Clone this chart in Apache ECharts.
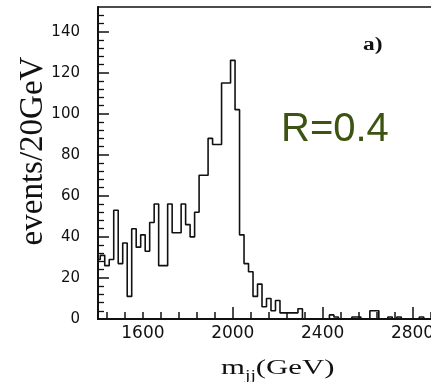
<!DOCTYPE html>
<html><head><meta charset="utf-8">
<script src="https://cdn.jsdelivr.net/npm/echarts@6/dist/echarts.min.js"></script>
<style>html,body{margin:0;padding:0;background:#fff}#c{width:431px;height:382px}</style>
</head><body><div id="c"></div>
<script>
// histogram: events per 20 GeV bin, first bin left edge = binStart
const binStart = 1390;
const binWidth = 20;
const binCounts = [
  29, 31, 26, 29, 53, 27, 37, 11, 44, 35,   // 1390..1570
  41, 33, 47, 56, 26, 26, 56, 42, 42, 56,   // 1590..1770
  46, 40, 52, 70, 70, 88, 85, 85, 115, 115, // 1790..1970
  126, 102, 41, 27, 23, 11, 17, 6, 10, 4,   // 1990..2170
  9, 3, 3, 3, 3, 5, 0, 0, 0, 0,             // 2190..2370
  0, 0, 2, 1, 0, 0, 0, 1, 1, 0,             // 2390..2570
  0, 4, 4, 0, 0, 1, 0, 1, 0, 0,             // 2590..2770
  0, 0, 1, 0, 0, 0                          // 2790..2890
];
const xLabelValues = [1600, 2000, 2400, 2800];
const xMajorTicks = [2000, 2400, 2800];
const xMinorTicks = [1440, 1520, 1600, 1680, 1760, 1840, 1920, 2000, 2080, 2160, 2240, 2320, 2400, 2480, 2560, 2640, 2720, 2800, 2880];
const yLabelValues = [0, 20, 40, 60, 80, 100, 120, 140];
const yMinorTicks = [4, 8, 12, 16, 24, 28, 32, 36, 44, 48, 52, 56, 64, 68, 72, 76, 84, 88, 92, 96, 104, 108, 112, 116, 124, 128, 132, 136, 144, 148];

const xMin = 1400, xMax = 2900, yMin = 0, yMax = 152;

const histData = binCounts.map((v, i) => [binStart + i * binWidth, v]);
histData.push([binStart + binCounts.length * binWidth, binCounts[binCounts.length - 1]]);

const ink = '#111';
const plain = v => String(v);
const chart = echarts.init(document.getElementById('c'), null, {renderer: 'canvas'});
chart.setOption({
  animation: false,
  backgroundColor: '#fff',
  grid: {left: 98, top: 7, right: -4, bottom: 63, show: true, borderColor: ink, borderWidth: 1.5,
         backgroundColor: 'transparent', containLabel: false, outerBoundsMode: 'none'},
  xAxis: [
    {type: 'value', min: xMin, max: xMax, position: 'bottom',
     axisLine: {show: true, lineStyle: {color: ink, width: 2}},
     axisTick: {show: true, inside: true, length: 12, customValues: xMajorTicks, lineStyle: {color: ink, width: 1.5}},
     axisLabel: {show: true, customValues: xLabelValues, formatter: plain, margin: 6, color: ink, fontSize: 17, fontFamily: 'DejaVu Sans', hideOverlap: false},
     splitLine: {show: false}},
    {type: 'value', min: xMin, max: xMax, position: 'bottom', gridIndex: 0,
     axisLine: {show: false},
     axisTick: {show: true, inside: true, length: 7, customValues: xMinorTicks, lineStyle: {color: ink, width: 1.5}},
     axisLabel: {show: false},
     splitLine: {show: false}}
  ],
  yAxis: [
    {type: 'value', min: yMin, max: yMax, position: 'left',
     axisLine: {show: true, lineStyle: {color: ink, width: 2}},
     axisTick: {show: true, inside: true, length: 11, customValues: yLabelValues, lineStyle: {color: ink, width: 1.5}},
     axisLabel: {show: true, customValues: yLabelValues, formatter: plain, margin: 18, color: ink, fontSize: 15, fontFamily: 'DejaVu Sans'},
     splitLine: {show: false}},
    {type: 'value', min: yMin, max: yMax, position: 'left', gridIndex: 0,
     axisLine: {show: false},
     axisTick: {show: true, inside: true, length: 6, customValues: yMinorTicks, lineStyle: {color: ink, width: 1.3}},
     axisLabel: {show: false},
     splitLine: {show: false}}
  ],
  series: [{
    type: 'line', xAxisIndex: 0, yAxisIndex: 0, step: 'end', data: histData,
    symbol: 'none', clip: true, lineStyle: {color: ink, width: 1.6}
  }],
  graphic: [
    {type: 'text', x: 33, y: 151, rotation: Math.PI / 2,
     style: {text: 'events/20GeV', font: '33px "Liberation Serif"', fill: ink,
             textAlign: 'center', textVerticalAlign: 'middle', align: 'center', verticalAlign: 'middle'}},
    {type: 'text', x: 221, y: 368, scaleX: 1.4,
     style: {text: '{m|m}{s|jj}{g|(GeV)}', fill: ink,
             textAlign: 'left', textVerticalAlign: 'middle', align: 'left', verticalAlign: 'middle',
             rich: {
               m: {fontSize: 22, fontFamily: 'Liberation Serif', lineHeight: 30, verticalAlign: 'middle', color: ink},
               s: {fontSize: 14, fontFamily: 'Liberation Serif', lineHeight: 30, verticalAlign: 'bottom', color: ink},
               g: {fontSize: 22, fontFamily: 'Liberation Serif', lineHeight: 30, verticalAlign: 'middle', color: ink}
             }}},
    {type: 'text', x: 363, y: 45, scaleX: 1.3,
     style: {text: 'a)', font: 'bold 18px "Liberation Serif"', fill: ink,
             textAlign: 'left', textVerticalAlign: 'middle', align: 'left', verticalAlign: 'middle'}},
    {type: 'text', x: 281, y: 130,
     style: {text: 'R=0.4', font: '40px "Liberation Sans"', fill: '#3c5311',
             textAlign: 'left', textVerticalAlign: 'middle', align: 'left', verticalAlign: 'middle'}}
  ]
});
</script></body></html>
